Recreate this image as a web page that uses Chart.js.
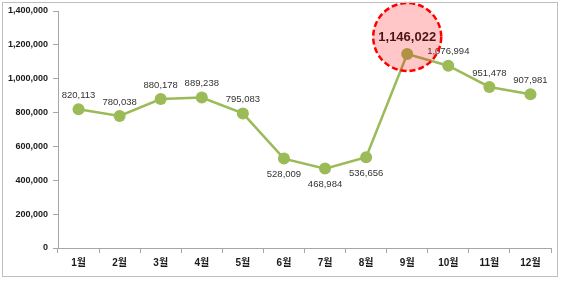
<!DOCTYPE html>
<html>
<head>
<meta charset="utf-8">
<script src="https://cdn.jsdelivr.net/npm/chart.js@4"></script>
<style>
    html, body { margin: 0; padding: 0; background: #fff; }
    #wrap { position: relative; width: 563px; height: 282px; }
    #frame { position: absolute; left: 2px; top: 2px; width: 556px; height: 275px; border: 1px solid #bfbfbf; box-sizing: border-box; }
</style>
</head>
<body>
<div id="wrap">
    <div id="frame"></div>
    <canvas id="myChart" width="563" height="282"></canvas>
</div>
<script>
const months = ["1월", "2월", "3월", "4월", "5월", "6월", "7월", "8월", "9월", "10월", "11월", "12월"];
const visitors = [820113, 780038, 880178, 889238, 795083, 528009, 468984, 536656, 1146022, 1076994, 951478, 907981];
const labelBelow = [false, false, false, false, false, true, true, true, false, false, false, false];
const highlightIndex = 8;
const yTicks = [0, 200000, 400000, 600000, 800000, 1000000, 1200000, 1400000];

const fmt = (v) => v.toLocaleString("en-US");

const labelPlugin = {
    id: "valueLabels",
    afterDatasetsDraw(chart) {
        const ctx = chart.ctx;
        const meta = chart.getDatasetMeta(0);
        ctx.save();
        ctx.textAlign = "center";
        ctx.textBaseline = "middle";
        meta.data.forEach((pt, i) => {
            if (i === highlightIndex) {
                ctx.font = "bold 13px 'Liberation Sans', sans-serif";
                ctx.fillStyle = "#1a1a1a";
                ctx.fillText(fmt(visitors[i]), pt.x, pt.y - 17);
                return;
            }
            ctx.font = "9.5px 'Liberation Sans', sans-serif";
            ctx.fillStyle = "#333";
            const dy = labelBelow[i] ? 16 : -14;
            ctx.fillText(fmt(visitors[i]), pt.x, pt.y + dy);
        });

        // highlight circle over the peak
        const pt = meta.data[highlightIndex];
        ctx.beginPath();
        ctx.arc(pt.x, pt.y - 17, 34, 0, Math.PI * 2);
        ctx.fillStyle = "rgba(255, 0, 0, 0.22)";
        ctx.fill();
        ctx.setLineDash([6, 3]);
        ctx.lineWidth = 2.5;
        ctx.strokeStyle = "#ff0000";
        ctx.stroke();
        ctx.restore();
    }
};

const ctx = document.getElementById("myChart").getContext("2d");
new Chart(ctx, {
    type: "line",
    data: {
        labels: months,
        datasets: [
            {
                data: visitors,
                borderColor: "#9bbb59",
                backgroundColor: "#9bbb59",
                borderWidth: 2.5,
                pointRadius: 6,
                pointHoverRadius: 6,
                pointBorderWidth: 0,
                tension: 0,
            },
        ],
    },
    options: {
        responsive: false,
        animation: false,
        events: [],
        layout: {
            padding: { left: 0, right: 12, top: 11, bottom: 0 },
        },
        plugins: {
            legend: { display: false },
            title: { display: false },
            tooltip: { enabled: false },
        },
        scales: {
            x: {
                offset: true,
                afterFit: (s) => { s.height = 34; },
                grid: {
                    offset: true,
                    drawOnChartArea: false,
                    tickLength: 5,
                    color: "#a6a6a6",
                },
                border: { color: "#a6a6a6", width: 1 },
                ticks: {
                    padding: 4,
                    color: "#1a1a1a",
                    font: { family: "'Liberation Sans', 'Noto Sans CJK KR'", size: 10, weight: "bold" },
                },
            },
            y: {
                min: 0,
                max: 1400000,
                afterFit: (s) => { s.width = 58; },
                afterBuildTicks: (s) => { s.ticks = yTicks.map((v) => ({ value: v })); },
                grid: {
                    drawOnChartArea: false,
                    tickLength: 5,
                    color: "#a6a6a6",
                },
                border: { color: "#a6a6a6", width: 1 },
                ticks: {
                    padding: 5,
                    color: "#1a1a1a",
                    font: { family: "'Liberation Sans', sans-serif", size: 9, weight: "bold" },
                    callback: (v) => fmt(v),
                },
            },
        },
    },
    plugins: [labelPlugin],
});
</script>
</body>
</html>
